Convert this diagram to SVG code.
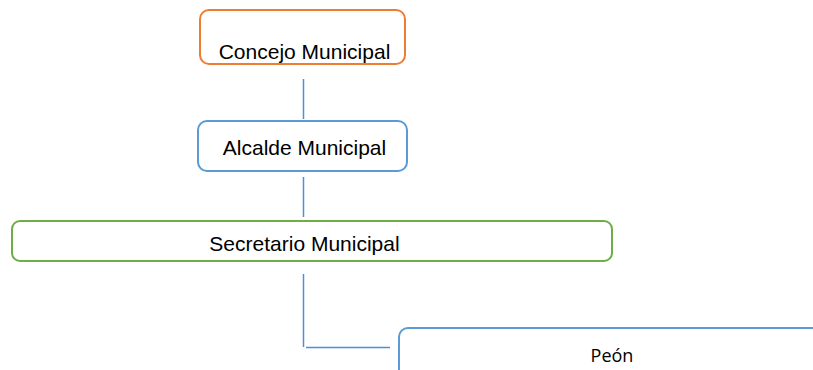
<svg xmlns="http://www.w3.org/2000/svg" width="813" height="370" viewBox="0 0 813 370">
<style>
.box{fill:#fff;stroke-width:2}
.o{stroke:#ED7D31}
.b{stroke:#5B9BD5}
.g{stroke:#70AD47}
.t{font-family:"Liberation Sans",Arial,sans-serif;font-size:21px;fill:#000;text-anchor:middle}
.p{font-family:"Open Sans","Noto Sans",sans-serif;font-size:18px;fill:#000;text-anchor:middle}
.c{stroke:#4A90D9;stroke-width:1.5;fill:none}
</style>
<rect width="813" height="370" fill="#fff"/>
<g id="connectors">
<line class="c" x1="303.5" y1="79" x2="303.5" y2="119"/>
<line class="c" x1="303.5" y1="177" x2="303.5" y2="217"/>
<line class="c" x1="303.5" y1="274" x2="303.5" y2="347"/>
<line class="c" x1="306" y1="347.5" x2="390" y2="347.5"/>
</g>
<g id="concejo">
<rect class="box o" x="200" y="10" width="205" height="54" rx="9"/>
<text class="t" x="304.5" y="59">Concejo Municipal</text>
</g>
<g id="alcalde">
<rect class="box b" x="198" y="121" width="209" height="50" rx="9"/>
<text class="t" x="304.5" y="155">Alcalde Municipal</text>
</g>
<g id="secretario">
<rect class="box g" x="12" y="221" width="600" height="40" rx="8"/>
<text class="t" x="304.5" y="251">Secretario Municipal</text>
</g>
<g id="peon">
<rect class="box b" x="399" y="328" width="430" height="60" rx="9"/>
<text class="p" x="612" y="362">Peón</text>
</g>
</svg>
